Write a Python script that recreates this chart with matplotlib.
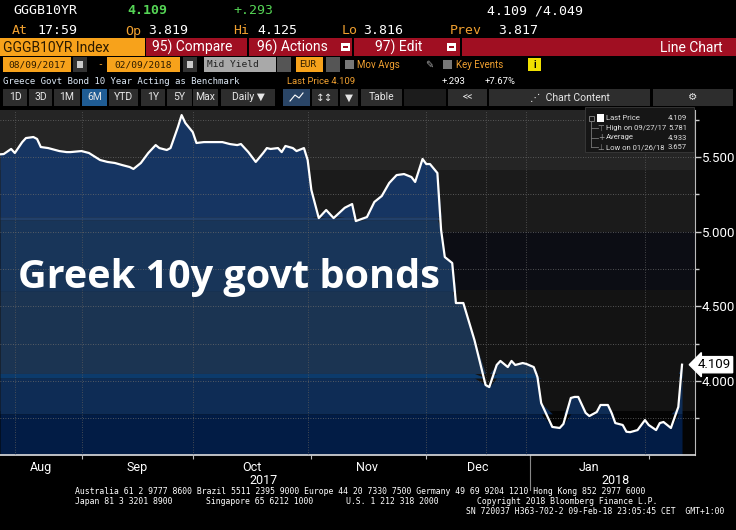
import matplotlib
matplotlib.use("Agg")
import matplotlib.pyplot as plt
from matplotlib.patches import Rectangle
from matplotlib.lines import Line2D
from matplotlib.transforms import blended_transform_factory
import numpy as np
import pandas as pd

# Greek 10y govt bond yield
dates = ['2017-08-09', '2017-08-10', '2017-08-12', '2017-08-13', '2017-08-15', '2017-08-16',
         '2017-08-18', '2017-08-19', '2017-08-20', '2017-08-22', '2017-08-25', '2017-08-27',
         '2017-08-28', '2017-08-31', '2017-09-02', '2017-09-05', '2017-09-07', '2017-09-09',
         '2017-09-11', '2017-09-13', '2017-09-14', '2017-09-16', '2017-09-18', '2017-09-20',
         '2017-09-21', '2017-09-23', '2017-09-24', '2017-09-26', '2017-09-27', '2017-09-28',
         '2017-09-30', '2017-10-01', '2017-10-03', '2017-10-05', '2017-10-08', '2017-10-10',
         '2017-10-12', '2017-10-13', '2017-10-15', '2017-10-17', '2017-10-19', '2017-10-20',
         '2017-10-21', '2017-10-23', '2017-10-24', '2017-10-25', '2017-10-27', '2017-10-28',
         '2017-10-30', '2017-10-31', '2017-11-01', '2017-11-03', '2017-11-05', '2017-11-07',
         '2017-11-10', '2017-11-12', '2017-11-13', '2017-11-16', '2017-11-18', '2017-11-20',
         '2017-11-22', '2017-11-24', '2017-11-26', '2017-11-28', '2017-11-29', '2017-12-01',
         '2017-12-02', '2017-12-03', '2017-12-05', '2017-12-06', '2017-12-07', '2017-12-09',
         '2017-12-10', '2017-12-12', '2017-12-15', '2017-12-18', '2017-12-19', '2017-12-21',
         '2017-12-22', '2017-12-24', '2017-12-25', '2017-12-26', '2017-12-28', '2017-12-29',
         '2017-12-31', '2018-01-01', '2018-01-02', '2018-01-05', '2018-01-07', '2018-01-08',
         '2018-01-10', '2018-01-11', '2018-01-12', '2018-01-14', '2018-01-15', '2018-01-17',
         '2018-01-18', '2018-01-20', '2018-01-21', '2018-01-22', '2018-01-24', '2018-01-25',
         '2018-01-26', '2018-01-28', '2018-01-30', '2018-01-31', '2018-02-02', '2018-02-03',
         '2018-02-04', '2018-02-06', '2018-02-08', '2018-02-09']
yields = [5.518, 5.520, 5.554, 5.527, 5.600, 5.627,
          5.634, 5.621, 5.567, 5.560, 5.540, 5.533,
          5.533, 5.540, 5.527, 5.480, 5.467, 5.460,
          5.446, 5.433, 5.420, 5.460, 5.527, 5.580,
          5.560, 5.547, 5.560, 5.701, 5.781, 5.728,
          5.667, 5.594, 5.600, 5.600, 5.600, 5.587,
          5.580, 5.587, 5.533, 5.467, 5.527, 5.560,
          5.554, 5.560, 5.533, 5.574, 5.560, 5.540,
          5.560, 5.480, 5.279, 5.091, 5.145, 5.091,
          5.160, 5.185, 5.071, 5.098, 5.199, 5.239,
          5.326, 5.379, 5.386, 5.366, 5.333, 5.487,
          5.453, 5.453, 5.393, 5.011, 4.830, 4.790,
          4.522, 4.522, 4.274, 3.973, 3.959, 4.107,
          4.134, 4.093, 4.134, 4.107, 4.120, 4.114,
          4.093, 4.026, 3.852, 3.692, 3.685, 3.712,
          3.886, 3.893, 3.893, 3.786, 3.765, 3.792,
          3.839, 3.839, 3.786, 3.718, 3.705, 3.660,
          3.657, 3.671, 3.738, 3.705, 3.671, 3.718,
          3.725, 3.685, 3.826, 4.109]

month_labels = ['Aug', 'Sep', 'Oct', 'Nov', 'Dec', 'Jan']
month_label_dates = ['2017-08-20', '2017-09-15', '2017-10-16', '2017-11-16', '2017-12-16', '2018-01-15']
month_edge_dates = ['2017-08-31', '2017-09-30', '2017-11-01', '2017-12-02', '2017-12-30', '2018-01-31']
grid_dates = ['2017-08-13', '2017-08-31', '2017-09-15', '2017-09-30', '2017-10-16', '2017-10-31',
              '2017-12-02', '2017-12-18', '2017-12-29', '2018-01-15', '2018-01-30']
year_labels = ['2017', '2018']
year_label_dates = ['2017-10-19', '2018-01-22']
year_break_date = '2017-12-30'

y_major = [4.0, 4.5, 5.0, 5.5]
y_minor = [3.75, 4.25, 4.75, 5.25, 5.75]

legend_names = ['Last Price', 'High on 09/27/17', 'Average', 'Low on 01/26/18']
legend_values = ['4.109', '5.781', '4.933', '3.657']

footer_lines = [
    (75, 491, 'Australia 61 2 9777 8600 Brazil 5511 2395 9000 Europe 44 20 7330 7500 Germany 49 69 9204 1210 Hong Kong 852 2977 6000'),
    (75, 501, 'Japan 81 3 3201 8900'),
    (206, 501, 'Singapore 65 6212 1000'),
    (346, 501, 'U.S. 1 212 318 2000'),
    (477, 501, 'Copyright 2018 Bloomberg Finance L.P.'),
    (466, 512, 'SN 720037 H363-702-2 09-Feb-18 23:05:45 CET  GMT+1:00'),
]

x = pd.to_datetime(dates)
y = np.array(yields)

W, H = 736, 530
ORANGE = '#f7a21b'
RED = '#a00f22'
AMBER = '#f0a030'
MONO = 'DejaVu Sans Mono'
SANS = ['Roboto', 'DejaVu Sans']

fig = plt.figure(figsize=(W / 100, H / 100), dpi=100, facecolor='black')


def ftext(px, py, s, color='white', size=9.5, family=MONO, ha='left', va='center', **kw):
    fig.text(px / W, 1 - py / H, s, color=color, fontsize=size, family=family, ha=ha, va=va, **kw)


def fbox(x0, y0, x1, y1, color, ec='none', lw=0):
    fig.add_artist(Rectangle((x0 / W, 1 - y1 / H), (x1 - x0) / W, (y1 - y0) / H,
                             transform=fig.transFigure, facecolor=color, edgecolor=ec, lw=lw, zorder=1))


# ---- header rows
ftext(13, 11, 'GGGB10YR')
ftext(127, 11, '4.109', color='#55d455', weight='bold')
ftext(233, 11, '+.293', color='#55d455')
ftext(487, 11, '4.109 /4.049')

ftext(12, 31, 'At', color=AMBER)
ftext(37, 31, '17:59')
ftext(125, 31, 'Op', color=AMBER)
ftext(148, 31, '3.819')
ftext(233, 31, 'Hi', color=AMBER)
ftext(257, 31, '4.125')
ftext(342, 31, 'Lo', color=AMBER)
ftext(363, 31, '3.816')
ftext(450, 31, 'Prev', color=AMBER)
ftext(498, 31, '3.817')

fbox(0, 38, 145, 56, ORANGE)
ftext(3, 47.5, 'GGGB10YR Index', color='#2b1a00', size=10, family=SANS)
for x0, x1, label in [(146, 247, '95) Compare'), (249, 352, '96) Actions'), (354, 460, '97) Edit')]:
    fbox(x0, 38, x1, 56, RED)
    ftext((x0 + x1) / 2 - (4 if 'Compare' in label else 8), 47.5, label, size=10, family=SANS, ha='center')
for x0 in [341, 447]:
    fbox(x0, 43, x0 + 9, 51, 'white')
    fbox(x0 + 2, 46.5, x0 + 7, 48, RED)
fbox(462, 38, 736, 56, RED)
ftext(723, 47.5, 'Line Chart', size=10, family=SANS, ha='right')

fbox(3, 57, 71, 72, ORANGE)
ftext(37, 64.5, '08/09/2017', color='#2b1a00', size=6.8, ha='center')
fbox(107, 57, 180, 72, ORANGE)
ftext(143.5, 64.5, '02/09/2018', color='#2b1a00', size=6.8, ha='center')
for x0 in [73, 183]:
    fbox(x0, 57, x0 + 14, 72, '#333333')
    fbox(x0 + 4, 61, x0 + 10, 68, '#cccccc')
ftext(97, 64.5, '-', color=AMBER, size=7)
fbox(204, 57, 276, 72, '#a9a9a9')
ftext(207, 64.5, 'Mid Yield', color='#222222', size=6.8)
fbox(277, 57, 291, 72, '#555555')
fbox(296, 57, 323, 72, ORANGE)
ftext(299, 64.5, 'EUR', color='#2b1a00', size=6.8)
fbox(326, 57, 340, 72, '#555555')
fbox(345, 60, 354, 69, '#777777')
ftext(357, 64.5, 'Mov Avgs', color=AMBER, size=7, family=SANS)
ftext(425, 64.5, '\u270e', color='#aaaaaa', size=7, family='DejaVu Sans')
fbox(443, 60, 452, 69, '#777777')
ftext(456, 64.5, 'Key Events', color=AMBER, size=7, family=SANS)
fbox(528, 58, 541, 71, '#f0e000')
ftext(534.5, 64.5, 'i', color='black', size=7, family=SANS, ha='center', weight='bold')

ftext(3, 81, 'Greece Govt Bond 10 Year Acting as Benchmark', color='#dce8f5', size=6.5)
ftext(287, 81, f'Last Price {y[-1]:.3f}', color=AMBER, size=6.8, family=SANS)
ftext(442, 81, '+.293', size=6.8, family=SANS)
ftext(485, 81, '+7.67%', size=6.8, family=SANS)

buttons = [(3, 27, '1D'), (29, 52, '3D'), (54, 80, '1M'), (82, 107, '6M'), (109, 138, 'YTD'),
           (141, 165, '1Y'), (167, 192, '5Y'), (193, 218, 'Max'), (221, 275, 'Daily \u25bc'),
           (283, 310, ''), (312, 338, '\u2195\u2195'), (340, 358, '\u25bc'), (361, 402, 'Table'),
           (404, 446, ''), (448, 487, '<<'), (489, 650, '\u22f0  Chart Content'), (653, 733, '\u2699')]
for x0, x1, label in buttons:
    col = '#2d2d2d'
    if label == '6M':
        col = '#1f5c94'
    elif x0 == 283:
        col = '#2a4566'
    elif x0 == 404:
        col = '#1c1c1c'
    fbox(x0, 89, x1, 106, col)
    if label:
        ftext((x0 + x1) / 2, 97.5, label, color='#e6e6e6', size=7.5, family=SANS, ha='center')
fig.add_artist(Line2D([290 / W, 295 / W, 299 / W, 303 / W], [1 - 101 / H, 1 - 95 / H, 1 - 98 / H, 1 - 93 / H],
                      transform=fig.transFigure, color='white', lw=0.8))

# ---- chart
ax = fig.add_axes([0, 75 / H, 695 / W, 345 / H])
ax.set_facecolor('black')
ymin, ymax = 3.504, 5.815
ax.set_xlim(pd.Timestamp('2017-08-09'), pd.Timestamp('2018-02-12 12:00'))
ax.set_ylim(ymin, ymax)

bg_bands = [(ymin, 3.80, '#040404'), (3.80, 4.609, '#131313'), (4.609, 5.0, '#0c0d14'),
            (5.0, 5.413, '#1b1b1b'), (5.413, ymax, '#252525')]
for lo, hi, c in bg_bands:
    ax.axhspan(lo, hi, color=c, lw=0, zorder=0)

fill_bands = [(ymin, 3.78, '#021c45'), (3.78, 4.02, '#0e2c55'), (4.02, 4.05, '#0c3b6c'),
              (4.05, 4.60, '#1b3452'), (4.60, 5.08, '#183559'), (5.08, 5.10, '#22406a'),
              (5.10, ymax, '#163562')]
for lo, hi, c in fill_bands:
    ax.fill_between(x, lo, np.clip(y, lo, hi), color=c, lw=0, zorder=1)

ax.plot(x, y, color='white', lw=1.6, zorder=3, solid_joinstyle='round')

ax.yaxis.tick_right()
ax.set_yticks(y_major)
ax.set_yticklabels([f'{v:.3f}' for v in y_major])
ax.set_yticks(y_minor, minor=True)
ax.tick_params(axis='y', which='major', direction='out', length=4, width=1, color='#cccccc',
               labelcolor='white', labelsize=9.5, pad=1)
ax.tick_params(axis='y', which='minor', direction='out', length=3, width=1, color='#cccccc')
for lab in ax.get_yticklabels():
    lab.set_family(SANS)
ax.yaxis.grid(True, which='both', color='#6a6a6a', linestyle=(0, (1, 2)), lw=0.6, zorder=2)

ax.set_xticks(pd.to_datetime(month_label_dates))
ax.set_xticklabels(month_labels)
ax.set_xticks(pd.to_datetime(grid_dates), minor=True)
ax.tick_params(axis='x', which='both', length=0, labelcolor='white', labelsize=9, pad=4)
for lab in ax.get_xticklabels():
    lab.set_family(SANS)
ax.xaxis.grid(True, which='minor', color='#5a5a5a', linestyle=(0, (1, 2)), lw=0.6, zorder=2)
ax.xaxis.grid(False, which='major')
ax.set_axisbelow(False)

for s in ['left', 'top']:
    ax.spines[s].set_visible(False)
ax.spines['right'].set_color('#bbbbbb')
ax.spines['bottom'].set_color('#dddddd')
ax.spines['bottom'].set_linewidth(1.2)

sec = ax.secondary_xaxis('bottom')
sec.set_xticks(pd.to_datetime(month_edge_dates))
sec.tick_params(length=3, color='#bbbbbb', labelbottom=False)
sec.spines['bottom'].set_visible(False)

xt = ax.get_xaxis_transform()
for d, lab in zip(year_label_dates, year_labels):
    ax.text(pd.Timestamp(d), -0.075, lab, transform=xt, color='white', fontsize=9, family=SANS,
            ha='center', va='center')
ax.plot([pd.Timestamp(year_break_date)] * 2, [0, -0.1], transform=xt, color='#888888', lw=0.8, clip_on=False)

ax.text(18 / 695, (455 - 288) / 345, 'Greek 10y govt bonds', transform=ax.transAxes, color='white',
        fontsize=28.5, weight='bold', family=['Open Sans', 'DejaVu Sans'], va='baseline', zorder=5)

# last price tag
bt = blended_transform_factory(ax.transAxes, ax.transData)
ax.text(1.004, y[-1], f'{y[-1]:.3f}', transform=bt, color='black', fontsize=9.5, family=SANS,
        ha='left', va='center', clip_on=False, zorder=6,
        bbox=dict(boxstyle='larrow,pad=0.12', fc='white', ec='white'))

# legend box
fbox(585, 107, 694, 152, '#161616', ec='#3a3a3a', lw=0.6)
rows_y = [118, 128, 137.5, 147]
fig.add_artist(Line2D([591 / W, 591 / W], [1 - 121 / H, 1 - 147 / H], transform=fig.transFigure,
                      color='#777777', lw=0.6, zorder=4))
fbox(588.5, 115.5, 593.5, 120.5, '#161616', ec='#888888', lw=0.6)
fbox(597, 114, 604, 121.5, 'white')
for ry, sym in zip(rows_y[1:], ['\u22a4', '+', '\u22a5']):
    fig.add_artist(Line2D([591 / W, 598 / W], [1 - ry / H, 1 - ry / H], transform=fig.transFigure,
                          color='#777777', lw=0.6, zorder=4))
    ftext(601, ry, sym, color='#999999', size=5.5, family='DejaVu Sans', ha='center')
for ry, name, val in zip(rows_y, legend_names, legend_values):
    ftext(606, ry, name, color='#e0e0e0', size=5.5, family=SANS)
    ftext(687, ry, val, color='#e0e0e0', size=5.5, family=SANS, ha='right')

# footer
for fx, fy, s in footer_lines:
    ftext(fx, fy, s, size=5.9, family=MONO)

fig.savefig('out.png', dpi=100, facecolor='black')
